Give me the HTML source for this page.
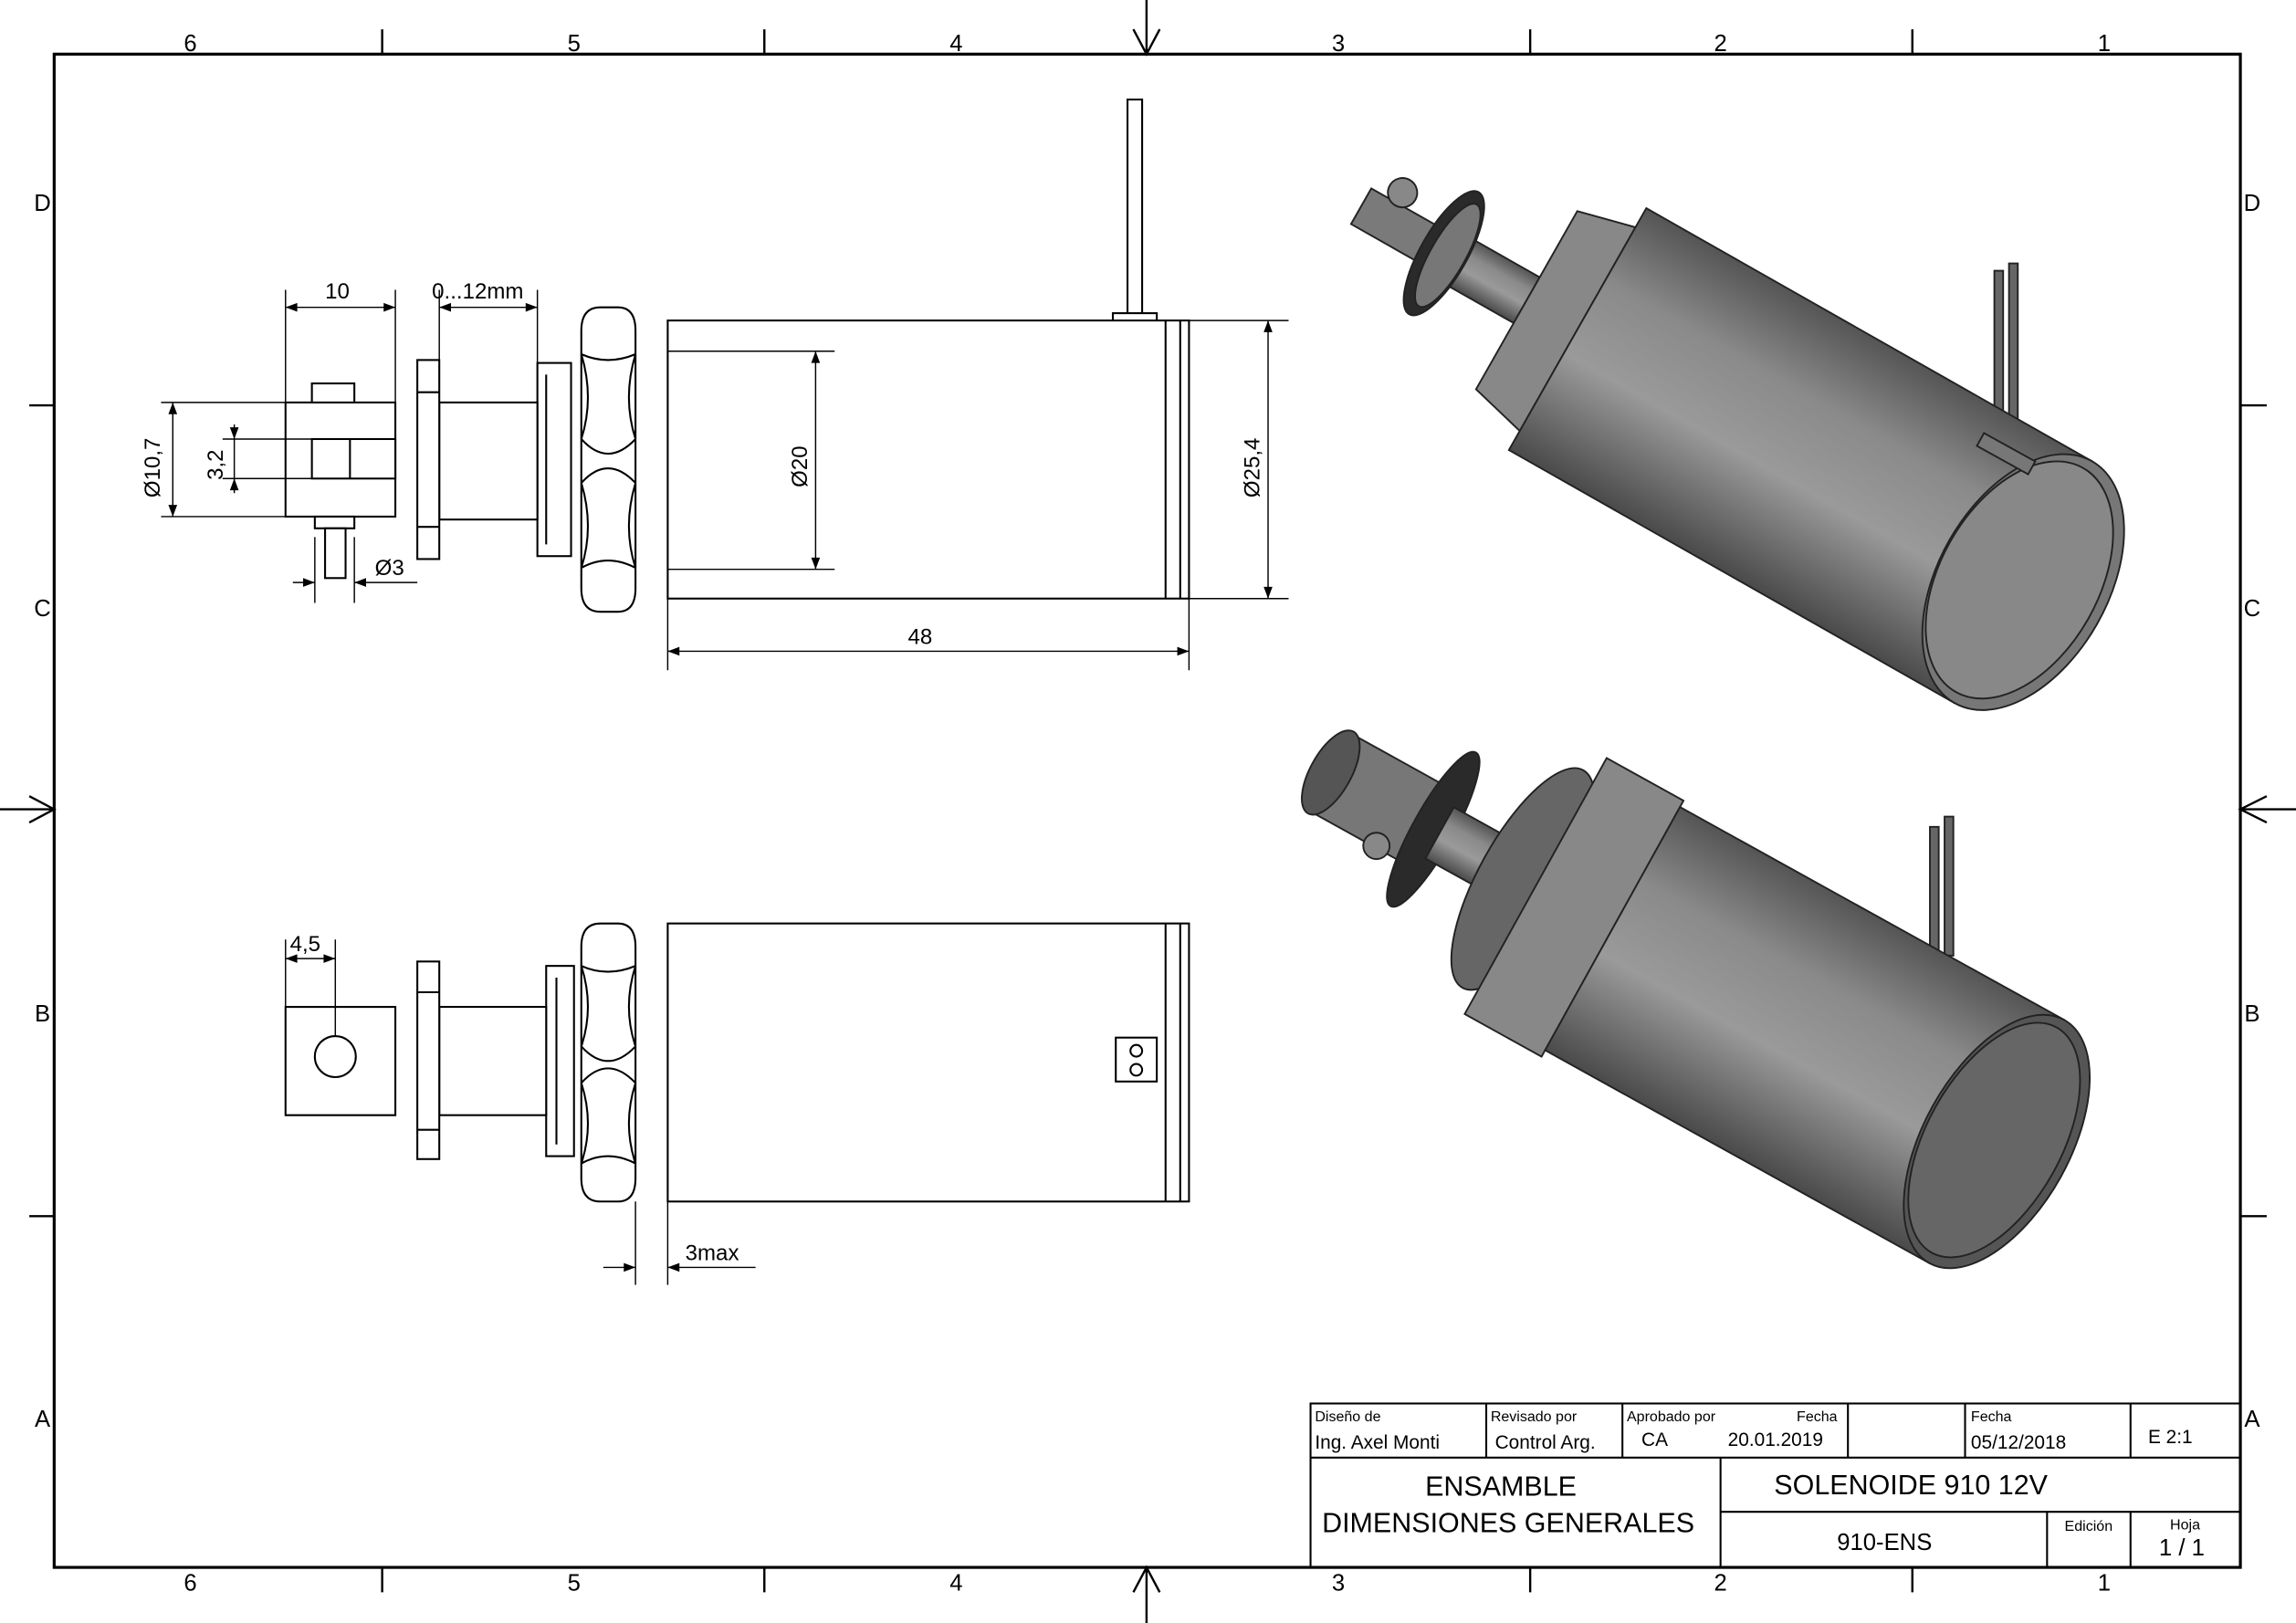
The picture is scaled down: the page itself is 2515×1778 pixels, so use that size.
<!DOCTYPE html>
<html><head><meta charset="utf-8"><style>
html,body{margin:0;padding:0;background:#fff;}
svg{display:block;}
text{font-family:"Liberation Sans",sans-serif;fill:#000;}
</style></head><body>
<svg width="2515" height="1778" viewBox="0 0 1568 1109" preserveAspectRatio="none" xmlns="http://www.w3.org/2000/svg">
<defs>
<linearGradient id="cyl" x1="0" y1="0" x2="0" y2="1">
<stop offset="0" stop-color="#555"/><stop offset="0.3" stop-color="#8a8a8a"/><stop offset="0.6" stop-color="#9a9a9a"/><stop offset="1" stop-color="#4a4a4a"/></linearGradient>
</defs>
<rect width="1568" height="1109" fill="#fff"/>
<rect x="37" y="37" width="1493" height="1034" fill="none" stroke="#000" stroke-width="2"/>
<g stroke="#000" stroke-width="1.5" fill="none">
<path d="M261 20V37M522 20V37M1045 20V37M1306 20V37M261 1071V1088M522 1071V1088M1045 1071V1088M1306 1071V1088"/>
<path d="M20 277H37M20 831H37M1530 277H1548M1530 831H1548"/>
<path d="M774 20L783 37L792 20M774 1088L783 1071L792 1088M783 0V37M783 1071V1109"/>
<path d="M20 544L37 553L20 562M1548 544L1530 553L1548 562M0 553H37M1530 553H1568"/>
</g>
<g font-size="16" text-anchor="middle">
<text x="130" y="35">6</text><text x="392" y="35">5</text><text x="653" y="35">4</text><text x="914" y="35">3</text><text x="1175" y="35">2</text><text x="1437" y="35">1</text>
<text x="130" y="1087">6</text><text x="392" y="1087">5</text><text x="653" y="1087">4</text><text x="914" y="1087">3</text><text x="1175" y="1087">2</text><text x="1437" y="1087">1</text>
<text x="29" y="144">D</text><text x="29" y="421">C</text><text x="29" y="698">B</text><text x="29" y="975">A</text>
<text x="1538" y="144">D</text><text x="1538" y="421">C</text><text x="1538" y="698">B</text><text x="1538" y="975">A</text>
</g>

<!-- Top view -->
<g stroke="#000" stroke-width="1.3" fill="#fff">
<rect x="770" y="68" width="10" height="148"/>
<rect x="760" y="214" width="30" height="7"/>
<rect x="456" y="219" width="356" height="190"/>
<path d="M796 219V409M806 219V409" fill="none"/>
<rect x="367" y="248" width="23" height="132"/>
<path d="M373 256V372" fill="none"/>
<path d="M397 226Q397 210 410 210H422Q434 210 434 226V402Q434 418 422 418H410Q397 418 397 402Z"/>
<path d="M397 242Q415 250 434 242M397 300Q415 320 434 300M397 330Q415 310 434 330M397 388Q415 378 434 388M397 242Q406 272 397 300M434 242Q425 272 434 300M397 330Q406 360 397 388M434 330Q425 360 434 388" fill="none"/>
<rect x="300" y="275" width="67" height="80"/>
<rect x="285" y="246" width="15" height="136"/>
<path d="M285 268H300M285 360H300" fill="none"/>
<rect x="195" y="275" width="75" height="78"/>
<rect x="213" y="300" width="57" height="27"/>
<path d="M239 300V327" fill="none"/>
<rect x="213" y="262" width="29" height="13"/>
<rect x="215" y="353" width="27" height="8"/>
<rect x="222" y="361" width="14" height="34"/>
</g>
<g stroke="#000" stroke-width="0.9" fill="none">
<path d="M195 275V198M270 275V198M195 210H270M300 248V198M367 248V198M300 210H367"/>
<path d="M195 275H110M195 353H110M118 275V353M213 300H152M213 327H152M160 300V327M160 300V290M160 327V337"/>
<path d="M456 240H570M456 389H570M557 240V389M812 219H880M812 409H880M866 219V409"/>
<path d="M456 409V458M812 409V458M456 445H812"/>
<path d="M215 367V412M242 367V412M200 398H215M242 398H285"/>
</g>
<g fill="#000">
<path d="M195 210l8-3v6zM270 210l-8-3v6zM300 210l8-3v6zM367 210l-8-3v6z"/>
<path d="M118 275l-3 8h6zM118 353l-3-8h6zM160 300l-3-8h6zM160 327l-3 8h6z"/>
<path d="M557 240l-3 8h6zM557 389l-3-8h6zM866 219l-3 8h6zM866 409l-3-8h6z"/>
<path d="M456 445l8-3v6zM812 445l-8-3v6zM215 398l-8-3v6zM242 398l8-3v6z"/>
</g>
<g font-size="15">
<text x="222" y="204">10</text>
<text x="295" y="204">0...12mm</text>
<text x="620" y="440">48</text>
<text x="256" y="393">Ø3</text>
<text transform="translate(109,340) rotate(-90)">Ø10,7</text>
<text transform="translate(152,328) rotate(-90)">3,2</text>
<text transform="translate(551,333) rotate(-90)">Ø20</text>
<text transform="translate(860,340) rotate(-90)">Ø25,4</text>
<text x="198" y="650">4,5</text>
<text x="468" y="861">3max</text>
</g>

<!-- Bottom view -->
<g stroke="#000" stroke-width="1.3" fill="#fff">
<rect x="456" y="631" width="356" height="190"/>
<path d="M796 631V821M806 631V821" fill="none"/>
<rect x="373" y="660" width="19" height="130"/>
<path d="M380 668V782" fill="none"/>
<path d="M397 647Q397 631 410 631H422Q434 631 434 647V805Q434 821 422 821H410Q397 821 397 805Z"/>
<path d="M397 660Q415 668 434 660M397 715Q415 735 434 715M397 740Q415 720 434 740M397 795Q415 785 434 795M397 660Q406 688 397 715M434 660Q425 688 434 715M397 740Q406 768 397 795M434 740Q425 768 434 795" fill="none"/>
<rect x="300" y="688" width="73" height="74"/>
<rect x="285" y="657" width="15" height="135"/>
<path d="M285 678H300M285 772H300" fill="none"/>
<path d="M195 688H270V762H195Z"/>
<circle cx="229" cy="722" r="14"/>
<rect x="762" y="709" width="28" height="30"/>
<circle cx="776" cy="718" r="4"/><circle cx="776" cy="731" r="4"/>
</g>
<g stroke="#000" stroke-width="0.9" fill="none">
<path d="M195 688V642M229 708V642M195 655H229M434 821V878M456 821V878M412 866H434M456 866H516"/>
</g>
<g fill="#000"><path d="M195 655l8-3v6zM229 655l-8-3v6zM434 866l-8-3v6zM456 866l8-3v6z"/></g>

<!-- Isometric 1 -->
<g stroke="#222" stroke-width="1.2">
<rect x="1362" y="185" width="6" height="125" fill="#666"/><rect x="1372" y="180" width="6" height="128" fill="#666"/>
<g transform="translate(1060,215) rotate(29.6)">
<rect x="-150" y="-14" width="60" height="28" fill="#7a7a7a"/>
<circle cx="-130" cy="-22" r="10" fill="#888"/>
<rect x="-90" y="-18" width="70" height="36" fill="url(#cyl)"/>
<ellipse cx="-85" cy="0" rx="16" ry="48" fill="#2a2a2a"/>
<ellipse cx="-82" cy="0" rx="12" ry="40" fill="#777"/>
<path d="M-20 -70L20 -80L20 80L-20 70Z" fill="#888"/>
<rect x="20" y="-95" width="350" height="190" fill="url(#cyl)"/>
<ellipse cx="370" cy="0" rx="58" ry="95" fill="#777"/>
<ellipse cx="367" cy="0" rx="54" ry="88" fill="#888"/>
</g>
<rect x="1350" y="305" width="40" height="10" fill="#777" transform="rotate(29 1370 310)"/>
</g>
<!-- Isometric 2 -->
<g stroke="#222" stroke-width="1.2">
<rect x="1318" y="565" width="6" height="90" fill="#666"/><rect x="1328" y="558" width="6" height="95" fill="#666"/>
<g transform="translate(1075,620) rotate(29)">
<rect x="-190" y="-30" width="80" height="60" fill="#777"/>
<ellipse cx="-190" cy="0" rx="14" ry="32" fill="#555"/>
<ellipse cx="-110" cy="0" rx="14" ry="60" fill="#2a2a2a"/>
<rect x="-105" y="-20" width="70" height="40" fill="url(#cyl)"/>
<ellipse cx="-40" cy="0" rx="30" ry="85" fill="#666"/>
<path d="M-30 -100L30 -100L30 100L-30 100Z" fill="#888"/>
<rect x="30" y="-95" width="300" height="190" fill="url(#cyl)"/>
<ellipse cx="330" cy="0" rx="50" ry="95" fill="#555"/>
<ellipse cx="328" cy="0" rx="46" ry="88" fill="#666"/>
</g>
<circle cx="940" cy="578" r="9" fill="#888"/>
</g>

<!-- Title block -->
<g stroke="#000" stroke-width="1.3" fill="none">
<rect x="895" y="959" width="635" height="112"/>
<path d="M895 996H1530M1015 959V996M1108 959V996M1262 959V996M1342 959V996M1455 959V996M1175 996V1071M1175 1033H1530M1398 1033V1071M1455 1033V1071"/>
</g>
<g font-size="10" fill="#333">
<text x="898" y="971">Diseño de</text><text x="1018" y="971">Revisado por</text><text x="1111" y="971">Aprobado por</text><text x="1227" y="971">Fecha</text><text x="1346" y="971">Fecha</text>
<text x="1410" y="1046">Edición</text><text x="1482" y="1045">Hoja</text>
</g>
<g font-size="13">
<text x="898" y="990">Ing. Axel Monti</text><text x="1021" y="990">Control Arg.</text><text x="1121" y="988">CA</text><text x="1180" y="988">20.01.2019</text><text x="1346" y="990">05/12/2018</text><text x="1467" y="986">E 2:1</text>
</g>
<g font-size="19" text-anchor="middle">
<text x="1025" y="1022">ENSAMBLE</text><text x="1030" y="1047">DIMENSIONES GENERALES</text>
<text x="1305" y="1021">SOLENOIDE  910 12V</text>
<text x="1287" y="1059" font-size="16">910-ENS</text>
<text x="1490" y="1063" font-size="16">1 / 1</text>
</g>
</svg>
</body></html>
